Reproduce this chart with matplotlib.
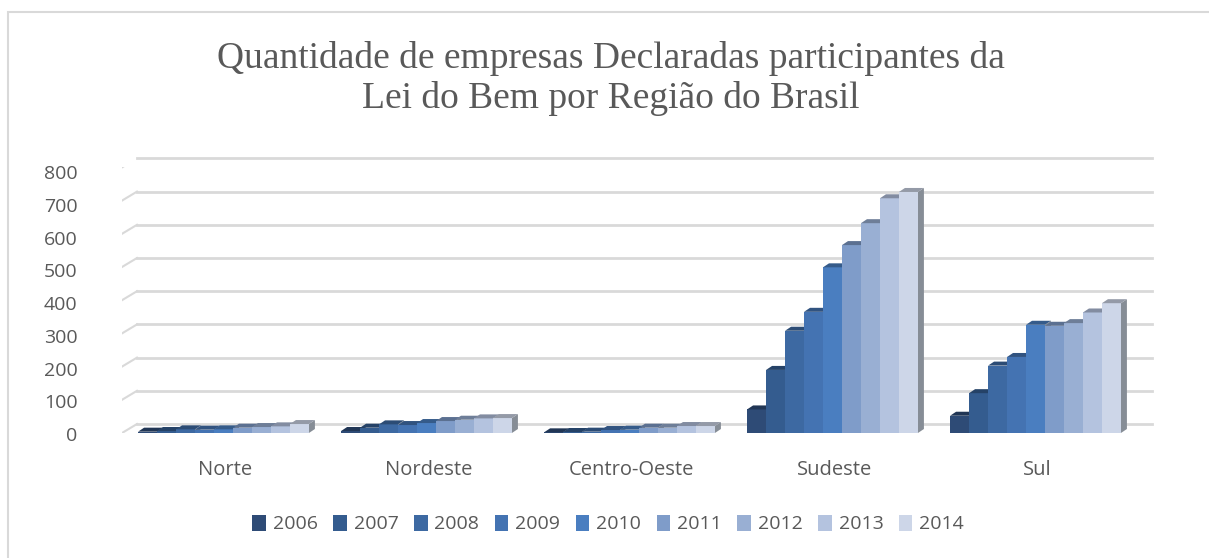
import matplotlib
matplotlib.use('Agg')
import matplotlib.pyplot as plt
import numpy as np
from matplotlib.transforms import ScaledTranslation, IdentityTransform
from matplotlib.patches import Polygon, Rectangle
from matplotlib.colors import to_rgb

# ---------------- data ----------------
regions = ['Norte', 'Nordeste', 'Centro-Oeste', 'Sudeste', 'Sul']
years = ['2006', '2007', '2008', '2009', '2010', '2011', '2012', '2013', '2014']
v2006 = [4, 6, 2, 71, 52]
v2007 = [6, 16, 3, 190, 120]
v2008 = [11, 26, 4, 308, 203]
v2009 = [10, 24, 9, 365, 229]
v2010 = [11, 30, 10, 499, 326]
v2011 = [16, 36, 16, 566, 323]
v2012 = [18, 40, 16, 632, 331]
v2013 = [20, 44, 21, 707, 363]
v2014 = [27, 45, 21, 726, 391]
series = [v2006, v2007, v2008, v2009, v2010, v2011, v2012, v2013, v2014]
colors = ['#2E4B76', '#345C8F', '#3D69A2', '#4473B2', '#4A7EC0',
          '#7F9CC9', '#99AFD3', '#B4C3DF', '#CDD6E8']
yticks = [0, 100, 200, 300, 400, 500, 600, 700, 800]

# ---------------- figure ----------------
W, H = 1209, 558
fig = plt.figure(figsize=(W / 100, H / 100), dpi=100)
fig.patch.set_facecolor('white')

# chart border
fig.add_artist(Rectangle((8 / W, -0.01), 1.02, 1 - 12 / H + 0.01,
                         transform=fig.transFigure, fill=False,
                         edgecolor='#D9D9D9', lw=1.5))

ax_left, ax_right = 122, 1137
ax_bottom, ax_top = 433, 433 - 265.6
ax = fig.add_axes([ax_left / W, 1 - ax_bottom / H, (ax_right - ax_left) / W,
                   (ax_bottom - ax_top) / H])
ax.set_xlim(-0.5, 4.5)
ax.set_ylim(0, 800)
ax.axis('off')

# back wall gridlines (3D offset)
gdx, gdy = 15 / 100, 9 / 100
off = ScaledTranslation(gdx, gdy, fig.dpi_scale_trans)
for t in yticks:
    ax.plot([0, 1], [t, t], transform=ax.get_yaxis_transform() + off,
            color='#D9D9D9', lw=2, zorder=1, clip_on=False)
    # side-wall diagonal
    p0 = ax.get_yaxis_transform().transform((0, t))
    ax.add_artist(plt.Line2D([p0[0], p0[0] + 15], [p0[1], p0[1] + 9],
                             transform=IdentityTransform(),
                             color='#D9D9D9', lw=1.5, zorder=1))
    ax.text(-0.044, t * 0.985 - 9, str(t), transform=ax.get_yaxis_transform(),
            ha='right', va='center', fontsize=14, color='#595959',
            family='Open Sans')

# bars
x = np.arange(len(regions))
bw = 0.0935
nser = len(series)
bdx, bdy = 6, 4


def shade(c, f):
    r, g, b = to_rgb(c)
    return (r * f, g * f, b * f)


for j in range(len(regions)):
    for i, (vals, c) in enumerate(zip(series, colors)):
        xc = x[j] - bw * nser / 2 + bw * (i + 0.5)
        v = vals[j]
        z = 3 + 3 * i
        side_c = shade('#A8B0BC', 0.8)
        ax.bar([xc], [v], width=bw, color=c, zorder=z + 1, linewidth=0,
               label=years[i] if j == 0 else None)
        (x0, y0) = ax.transData.transform((xc - bw / 2, 0))
        (x1, y1) = ax.transData.transform((xc + bw / 2, v))
        top = Polygon([(x0, y1), (x1, y1), (x1 + bdx, y1 + bdy), (x0 + bdx, y1 + bdy)],
                      closed=True, transform=IdentityTransform(),
                      facecolor=shade(c, 0.72), edgecolor='none', zorder=z + 1,
                      clip_on=False)
        side = Polygon([(x1, y0), (x1, y1), (x1 + bdx, y1 + bdy), (x1 + bdx, y0 + bdy)],
                       closed=True, transform=IdentityTransform(),
                       facecolor=side_c, edgecolor='none', zorder=z,
                       clip_on=False)
        ax.add_patch(side)
        ax.add_patch(top)

# category labels
for j, r in enumerate(regions):
    ax.text(x[j] + 0.01, -110, r, ha='center', va='center',
            fontsize=14.5, color='#595959', family='Open Sans', clip_on=False)

# title
fig.text(0.505, 1 - 58 / H, 'Quantidade de empresas Declaradas participantes da',
         ha='center', va='center', fontsize=27, color='#595959',
         family='Liberation Serif')
fig.text(0.505, 1 - 98 / H, 'Lei do Bem por Região do Brasil',
         ha='center', va='center', fontsize=27, color='#595959',
         family='Liberation Serif')

# legend
handles = [Rectangle((0, 0), 1, 1, facecolor=c, edgecolor='none') for c in colors]
leg = fig.legend(handles, years, loc='center', ncol=9,
                 bbox_to_anchor=(0.503, 1 - 524 / H), frameon=False,
                 handlelength=0.7, handleheight=0.9, handletextpad=0.35,
                 columnspacing=0.8,
                 prop={'family': 'Open Sans', 'size': 14})
for t in leg.get_texts():
    t.set_color('#595959')

fig.savefig('out.png', dpi=100)
